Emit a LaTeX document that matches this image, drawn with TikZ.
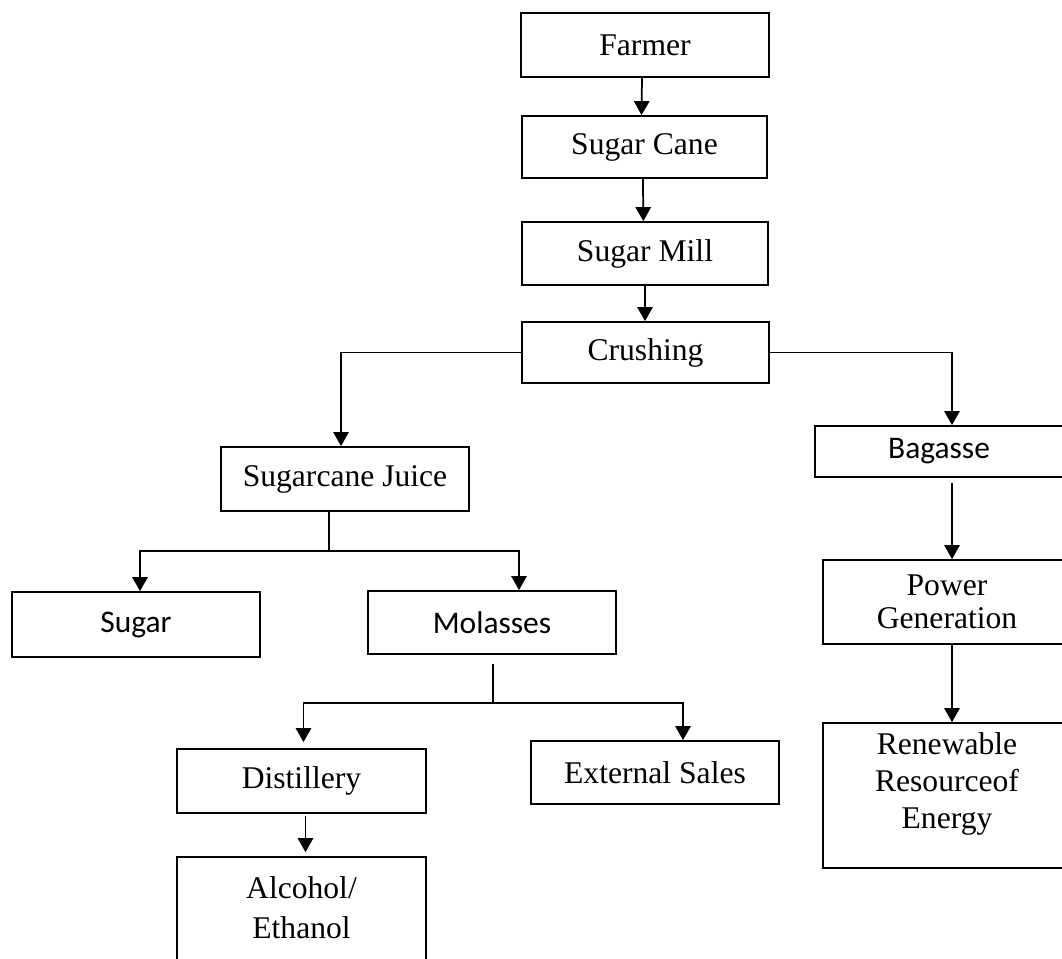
\documentclass[tikz,border=0pt]{standalone}
\usepackage{fontspec}
\setmainfont{Liberation Serif}
\newfontfamily\calfont{Carlito}
\usetikzlibrary{arrows.meta}
\tikzset{
  box/.style={draw, line width=1.3pt, rectangle, inner sep=0pt, align=center,
    font=\fontsize{23.7}{25}\selectfont},
  sansbox/.style={box, font=\calfont\fontsize{23.6}{25}\selectfont},
  txt/.style={align=center, inner sep=0pt},
  arr/.style={line width=1.3pt, -{Triangle[width=11.5pt,length=10.5pt]}},
  ln/.style={line width=1.3pt}
}
\begin{document}
\begin{tikzpicture}[x=0.75pt,y=-0.75pt]
\useasboundingbox (0,0) rectangle (1062,958);
\clip (0,0) rectangle (1062,958);
% main column
\node[box, minimum width=186pt, minimum height=48pt] (farmer) at (645,45) {Farmer};
\node[box, minimum width=184pt, minimum height=46.5pt] (cane) at (644.5,147) {Sugar Cane};
\node[box, minimum width=184.5pt, minimum height=47.25pt] (mill) at (645,253.5) {Sugar Mill};
\node[box, minimum width=185pt, minimum height=45.75pt] (crush) at (645.5,352.5) {Crushing};
% left branch
\node[box, minimum width=186pt, minimum height=48pt] (juice) at (345,479) {Sugarcane Juice};
\node[sansbox, minimum width=186pt, minimum height=48.75pt] (sugar) at (136,624.5) {Sugar};
\node[sansbox, minimum width=186pt, minimum height=47.25pt] (mol) at (492,622.5) {Molasses};
\node[box, minimum width=186.75pt, minimum height=48pt] (dist) at (301.5,781) {Distillery};
\node[box, minimum width=186pt, minimum height=47.25pt] (ext) at (655,772.5) {External Sales};
\node[box, minimum width=186.75pt, minimum height=108.75pt] (alc) at (301.5,929.5) {};
\node[txt, font=\fontsize{23.7}{30}\selectfont] (alctext) at (301.5,908) {Alcohol/\\Ethanol};
% right branch
\node[sansbox, minimum width=186pt, minimum height=38.25pt] (bag) at (939,451.5) {Bagasse};
\node[box, minimum width=186pt, minimum height=63pt, font=\fontsize{23.7}{25}\selectfont] (pow) at (947,602) {Power\\Generation};
\node[box, minimum width=186pt, minimum height=108.75pt] (ren) at (947,795.5) {};
\node[txt, font=\fontsize{23.7}{28}\selectfont] (rentext) at (947,784) {Renewable\\Resourceof\\Energy};
% connectors main column
\draw[arr] ([xshift=-2.25pt]farmer.south) -- ([xshift=-2.25pt]cane.north);
\draw[arr] ([xshift=-1.2pt]cane.south) -- ([xshift=-1.2pt]mill.north);
\draw[arr] (mill.south) -- (mill.south |- crush.north);
% crushing split
\draw[arr] (crush.west) -| ([xshift=-3pt]juice.north);
\draw[arr] (crush.east) -| ([xshift=9.75pt]bag.north);
% juice split
\coordinate (jb) at (329,551);
\draw[ln] (juice.south -| jb) -- (jb);
\draw[arr] (jb) -| ([xshift=3pt]sugar.north);
\draw[arr] (jb) -| ([xshift=20.25pt]mol.north);
% molasses split
\coordinate (mb) at (493,703);
\draw[ln] ([xshift=0.75pt,yshift=-6.75pt]mol.south) -- (mb);
\draw[arr] (mb) -| ([xshift=1.5pt,yshift=4.5pt]dist.north);
\draw[arr] (mb) -| ([xshift=21pt]ext.north);
\draw[arr] ([xshift=3pt,yshift=-1.5pt]dist.south) -- ([xshift=3pt,yshift=3pt]alc.north);
% right chain
\draw[arr] ([xshift=9.75pt,yshift=-3.75pt]bag.south) -- ([xshift=3.75pt]pow.north);
\draw[arr] ([xshift=3.75pt]pow.south) -- ([xshift=3.75pt]ren.north);
\end{tikzpicture}
\end{document}
